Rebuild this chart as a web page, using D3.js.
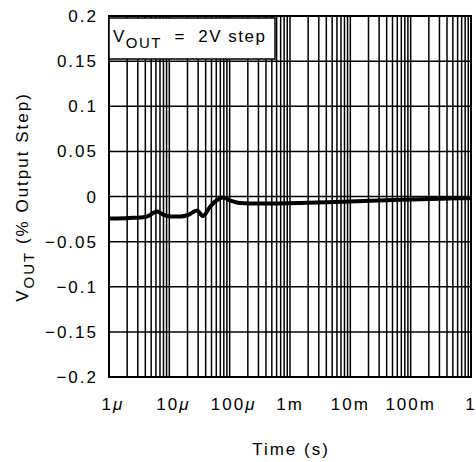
<!DOCTYPE html>
<html>
<head>
<meta charset="utf-8">
<script src="https://cdn.jsdelivr.net/npm/d3@7"></script>
<style>
  body { margin: 0; background: #fff; }
  text { font-family: "Liberation Sans", Arial, sans-serif; fill: #000; }
</style>
</head>
<body>
<svg width="476" height="462"></svg>
<script>
// settling curve, time in seconds, value in % of output step
const times = [1e-6, 2.2e-6, 4e-6, 4.8e-6, 6.25e-6, 7.85e-6, 10.3e-6, 15e-6, 20.4e-6,
  28.8e-6, 36e-6, 47e-6, 62e-6, 77.5e-6, 101e-6, 148e-6, 318e-6, 1.47e-3,
  9.9e-3, 66.5e-3, 0.306, 1];
const values = [-0.0244, -0.0238, -0.0227, -0.0205, -0.0166, -0.020, -0.0222, -0.0222, -0.0205,
  -0.0155, -0.0216, -0.0116, -0.0039, -0.0011, -0.0044, -0.0072, -0.0078, -0.0072,
  -0.0055, -0.0035, -0.0024, -0.0019];

const xTicks = [1e-6, 1e-5, 1e-4, 1e-3, 1e-2, 1e-1, 1];
const xTickLabels = [['1', 'μ'], ['10', 'μ'], ['100', 'μ'], ['1m', ''], ['10m', ''], ['100m', ''], ['1', '']];
const yTicks = [-0.2, -0.15, -0.1, -0.05, 0, 0.05, 0.1, 0.15, 0.2];

const svg = d3.select('svg');
const pLeft = 109, pRight = 471, pTop = 16, pBottom = 377;

const x = d3.scaleLog().domain([1e-6, 1]).range([pLeft, pRight]);
const y = d3.scaleLinear().domain([-0.2, 0.2]).range([pBottom, pTop]);

// vertical grid: 1..9 in every decade
const minor = [];
for (let e = -6; e < 0; e++) {
  for (let m = 1; m < 10; m++) minor.push(m * Math.pow(10, e));
}
minor.push(1);

const grid = svg.append('g');
grid.selectAll('line.v')
  .data(minor)
  .join('line')
    .attr('class', 'v')
    .attr('x1', d => x(d)).attr('x2', d => x(d))
    .attr('y1', pTop).attr('y2', pBottom)
    .attr('stroke', '#000').attr('stroke-width', 1.5);

grid.selectAll('line.h')
  .data(yTicks)
  .join('line')
    .attr('class', 'h')
    .attr('x1', pLeft).attr('x2', pRight)
    .attr('y1', d => y(d)).attr('y2', d => y(d))
    .attr('stroke', '#000').attr('stroke-width', 1.5);

// frame
svg.append('rect')
  .attr('x', pLeft).attr('y', pTop)
  .attr('width', pRight - pLeft).attr('height', pBottom - pTop)
  .attr('fill', 'none').attr('stroke', '#000').attr('stroke-width', 2);

// legend box
const lg = svg.append('g');
lg.append('rect')
  .attr('x', pLeft).attr('y', 18)
  .attr('width', 166).attr('height', 41)
  .attr('fill', '#fff').attr('stroke', '#000').attr('stroke-width', 1.5);
const lt = lg.append('text')
  .attr('x', 113).attr('y', 42)
  .attr('font-size', 17).attr('letter-spacing', 1.5);
lt.append('tspan').text('V');
lt.append('tspan').attr('dy', 6).attr('font-size', 15).text('OUT');
lt.append('tspan').attr('dy', -6).attr('xml:space', 'preserve').text('  =  2V step');

// curve
const line = d3.line()
  .x(d => x(d[0]))
  .y(d => y(d[1]))
  .curve(d3.curveMonotoneX);

svg.append('path')
  .datum(times.map((t, i) => [t, values[i]]))
  .attr('d', line)
  .attr('fill', 'none')
  .attr('stroke', '#000')
  .attr('stroke-width', 4)
  .attr('stroke-linejoin', 'round');

// y tick labels
svg.append('g')
  .selectAll('text')
  .data(yTicks)
  .join('text')
    .attr('x', 98)
    .attr('y', d => y(d) + 6)
    .attr('text-anchor', 'end')
    .attr('font-size', 17)
    .attr('letter-spacing', 2)
    .text(d => d === 0 ? '0' : d3.format('')(d).replace('-', '−'));

// x tick labels
const xl = svg.append('g')
  .selectAll('text')
  .data(xTicks)
  .join('text')
    .attr('x', (d, i) => x(d) + (xTickLabels[i][1] ? 4 : 0))
    .attr('y', 410)
    .attr('text-anchor', 'middle')
    .attr('font-size', 17)
    .attr('letter-spacing', 2);
xl.append('tspan').text((d, i) => xTickLabels[i][0]);
xl.append('tspan').attr('font-style', 'italic').text((d, i) => xTickLabels[i][1]);

// axis titles
svg.append('text')
  .attr('x', 291).attr('y', 455)
  .attr('text-anchor', 'middle')
  .attr('font-size', 17)
  .attr('letter-spacing', 2)
  .text('Time (s)');

const yt = svg.append('text')
  .attr('transform', 'translate(28, 197) rotate(-90)')
  .attr('text-anchor', 'middle')
  .attr('font-size', 17)
  .attr('letter-spacing', 2);
yt.append('tspan').text('V');
yt.append('tspan').attr('dy', 6).attr('font-size', 15).text('OUT');
yt.append('tspan').attr('dy', -6).attr('xml:space', 'preserve').text(' (% Output Step)');
</script>
</body>
</html>
